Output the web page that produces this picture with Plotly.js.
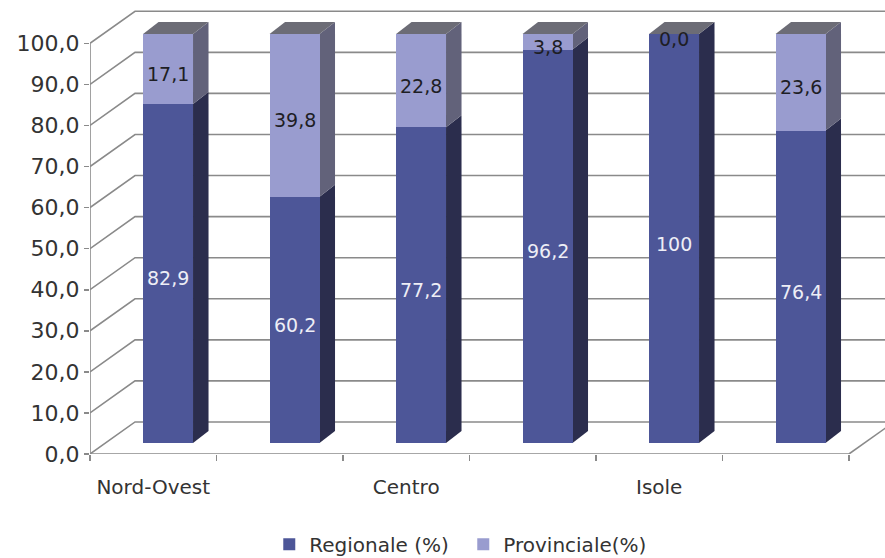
<!DOCTYPE html>
<html>
<head>
<meta charset="utf-8">
<script src="https://cdn.plot.ly/plotly-3.0.1.min.js"></script>
<style>
  html, body { margin: 0; padding: 0; background: #ffffff; }
  #chart { width: 885px; height: 558px; }
</style>
</head>
<body>
<div id="chart"></div>
<script>
// Ripartizioni territoriali (una etichetta sì e una no sull'asse)
const categories = ['Nord-Ovest', 'Nord-Est', 'Centro', 'Sud', 'Isole', 'Italia'];
const regionale = [82.9, 60.2, 77.2, 96.2, 100, 76.4];
const provinciale = [17.1, 39.8, 22.8, 3.8, 0.0, 23.6];
const yTicks = [0, 10, 20, 30, 40, 50, 60, 70, 80, 90, 100];
const seriesNames = ['Regionale (%)', 'Provinciale(%)'];

// Colori: fronte, fianco e sommità dei parallelepipedi
const colRegFront = '#4d5698';
const colRegSide = '#2b2d4d';
const colProvFront = '#999ccf';
const colProvSide = '#62627a';
const colTop = '#6c6c76';
const gridCol = '#8a8a8a';
const textCol = '#333333';

// Geometria della prospettiva (unità degli assi)
const barWidth = 0.395;      // larghezza barra, in categorie
const depthX = 0.1225;       // profondità barra, orizzontale
const depthY = 2.93;         // profondità barra, verticale (unità y2)
const wallX = 0.356;         // spostamento della parete di fondo
const wallY = 7.8;           // spostamento della parete di fondo (unità y)
const xMax = 5.785;

const idx = categories.map((_, i) => i);
const fmtComma = s => s.replace('.', ',');

const shapes = [];

// Parete di fondo: griglia con raccordi obliqui verso l'asse frontale
yTicks.forEach(v => {
  shapes.push({
    type: 'path', xref: 'x', yref: 'y', layer: 'below',
    path: `M -0.5 ${v} L ${-0.5 + wallX} ${v + wallY} L ${xMax + 1} ${v + wallY}`,
    line: { color: gridCol, width: 1.6 }
  });
});
// Asse verticale frontale e bordo del pavimento
shapes.push({
  type: 'line', xref: 'x', yref: 'y', layer: 'below',
  x0: -0.5, y0: 0, x1: -0.5, y1: 100,
  line: { color: gridCol, width: 1.6 }
});
shapes.push({
  type: 'line', xref: 'x', yref: 'y', layer: 'below',
  x0: -0.5, y0: 0, x1: categories.length - 0.5, y1: 0,
  line: { color: gridCol, width: 1.6 }
});
shapes.push({
  type: 'line', xref: 'x', yref: 'y', layer: 'below',
  x0: categories.length - 0.5, y0: 0,
  x1: categories.length - 0.5 + wallX, y1: wallY,
  line: { color: gridCol, width: 1.6 }
});

// Fianchi e sommità delle barre, ricavati dai valori
idx.forEach(i => {
  const r = regionale[i];
  const p = provinciale[i];
  const top = r + p;
  const xl = i - barWidth / 2;
  const xr = i + barWidth / 2;
  shapes.push({
    type: 'path', xref: 'x2', yref: 'y2', layer: 'below',
    path: `M ${xr} 0 L ${xr + depthX} ${depthY} L ${xr + depthX} ${r + depthY} L ${xr} ${r} Z`,
    fillcolor: colRegSide, line: { width: 0 }
  });
  if (p > 0) {
    shapes.push({
      type: 'path', xref: 'x2', yref: 'y2', layer: 'below',
      path: `M ${xr} ${r} L ${xr + depthX} ${r + depthY} L ${xr + depthX} ${top + depthY} L ${xr} ${top} Z`,
      fillcolor: colProvSide, line: { width: 0 }
    });
  }
  shapes.push({
    type: 'path', xref: 'x2', yref: 'y2', layer: 'below',
    path: `M ${xl} ${top} L ${xr} ${top} L ${xr + depthX} ${top + depthY} L ${xl + depthX} ${top + depthY} Z`,
    fillcolor: colTop, line: { width: 0 }
  });
});

// Etichette dei valori al centro di ciascun segmento
const labelFont = { family: 'DejaVu Sans', size: 19 };
const annotations = [];
idx.forEach(i => {
  annotations.push({
    xref: 'x2', yref: 'y2', x: i, y: regionale[i] / 2,
    text: fmtComma(String(regionale[i])), showarrow: false,
    xanchor: 'center', yanchor: 'middle', yshift: -5,
    font: Object.assign({ color: '#eeeef6' }, labelFont)
  });
  annotations.push({
    xref: 'x2', yref: 'y2', x: i, y: regionale[i] + provinciale[i] / 2,
    text: fmtComma(provinciale[i].toFixed(1)), showarrow: false,
    xanchor: 'center', yanchor: 'middle', yshift: -5,
    font: Object.assign({ color: '#1e1e24' }, labelFont)
  });
});

const traces = [
  {
    type: 'bar', name: seriesNames[0], x: idx, y: regionale,
    xaxis: 'x2', yaxis: 'y2',
    marker: { color: colRegFront, line: { width: 0 } },
    hoverinfo: 'skip'
  },
  {
    type: 'bar', name: seriesNames[1], x: idx, y: provinciale,
    xaxis: 'x2', yaxis: 'y2',
    marker: { color: colProvFront, line: { width: 0 } },
    hoverinfo: 'skip'
  }
];

const layout = {
  width: 885, height: 558,
  margin: { l: 90, r: 0, t: 5, b: 104, autoexpand: false },
  paper_bgcolor: '#ffffff', plot_bgcolor: '#ffffff',
  separators: ',.',
  barmode: 'stack',
  bargap: 1 - barWidth,
  showlegend: true,
  font: { family: 'DejaVu Sans', color: textCol },
  xaxis: {
    type: 'linear', range: [-0.5, xMax], fixedrange: true,
    showgrid: false, zeroline: false, showline: false, automargin: false,
    tickmode: 'array', tickvals: idx.filter(i => i % 2 === 0),
    ticktext: categories.filter((_, i) => i % 2 === 0),
    ticks: '', ticklabelstandoff: 19,
    tickfont: { family: 'DejaVu Sans', size: 20, color: textCol },
    minor: { tickmode: 'linear', tick0: -0.5, dtick: 1, ticks: 'outside', ticklen: 6, tickwidth: 1.6, tickcolor: gridCol, showgrid: false }
  },
  yaxis: {
    range: [0, 449 / 4.107], fixedrange: true, automargin: false,
    showgrid: false, zeroline: false, showline: false,
    tickmode: 'array', tickvals: yTicks, tickformat: '.1f',
    ticks: 'outside', ticklen: 5, tickwidth: 1.6, tickcolor: gridCol,
    tickfont: { family: 'DejaVu Sans', size: 22, color: textCol }
  },
  xaxis2: {
    overlaying: 'x', type: 'linear', range: [-0.617, -0.617 + 795 / 126.5],
    visible: false, fixedrange: true
  },
  yaxis2: {
    overlaying: 'y', range: [-11 / 4.09, -11 / 4.09 + 449 / 4.09],
    visible: false, fixedrange: true
  },
  legend: {
    orientation: 'h', x: 0.2255, xanchor: 'left', y: -0.201, yanchor: 'middle',
    entrywidth: 149, entrywidthmode: 'pixels',
    font: { family: 'DejaVu Sans', size: 20, color: textCol },
    bgcolor: 'rgba(0,0,0,0)', traceorder: 'normal'
  },
  annotations: annotations,
  shapes: shapes
};

Plotly.newPlot('chart', traces, layout, { displayModeBar: false, staticPlot: true });
</script>
</body>
</html>
